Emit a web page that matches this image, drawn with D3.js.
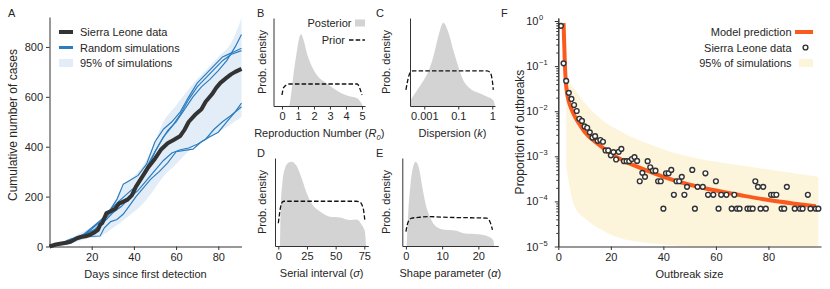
<!DOCTYPE html>
<html>
<head>
<meta charset="utf-8">
<script src="https://cdn.jsdelivr.net/npm/d3@7"></script>
<style>
  body { margin: 0; background: #fff; }
  svg text { font-family: "Liberation Sans", Arial, Helvetica, sans-serif; fill: #262626; }
</style>
</head>
<body>
<svg id="chart" width="830" height="289"></svg>
<script>
// ---------------- data ----------------
// panel A: cumulative cases [day, cases]
const slCurve = [[0,0],[3,8],[5,11],[8,15],[10,19],[13,33],[15,38],[17,41],[19,46],[21,55],[23,67],[24,87],[25,94],[27,134],[29,141],[31,150],[33,172],[35,180],[37,188],[39,205],[41,240],[44,280],[47,320],[50,352],[53,390],[56,414],[59,428],[62,443],[64,468],[66,500],[69,528],[72,550],[74,580],[77,610],[79,636],[81,656],[84,677],[86,690],[88,700],[91,712]];
const sim1 = [[0,0],[4,8],[8,18],[12,30],[16,42],[20,70],[24,100],[28,140],[32,175],[36,205],[40,235],[44,285],[48,350],[52,410],[56,465],[60,500],[64,550],[68,600],[72,640],[76,670],[80,705],[84,745],[88,800],[91,850]];
const sim2 = [[0,0],[5,10],[10,25],[15,40],[20,75],[25,110],[29,150],[32,190],[35,250],[38,265],[42,285],[46,330],[50,420],[54,470],[58,500],[62,540],[66,600],[70,655],[74,690],[78,725],[82,760],[86,775],[91,795]];
const sim3 = [[0,0],[6,12],[11,28],[16,45],[21,65],[26,105],[30,150],[34,178],[38,200],[42,250],[46,300],[50,380],[54,440],[58,480],[62,530],[66,590],[70,640],[74,675],[78,710],[82,745],[86,770],[91,785]];
const sim4 = [[0,0],[5,12],[10,30],[15,38],[18,40],[24,42],[26,75],[29,100],[32,108],[35,130],[38,165],[41,200],[44,230],[48,270],[52,300],[56,335],[60,380],[64,385],[68,390],[72,420],[76,440],[80,458],[84,500],[88,540],[91,575]];
const sim5 = [[0,0],[6,14],[12,35],[18,55],[22,70],[26,100],[30,135],[34,160],[38,195],[42,225],[46,265],[50,305],[54,345],[58,375],[62,388],[66,395],[70,410],[74,430],[78,470],[82,500],[86,525],[91,560]];
const bandDays = [0,5,10,15,19,23,27,31,35,39,43,48,54,60,65,70,75,80,86,91];
const bandLo   = [0,3,12,25,33,38,55,80,105,132,160,210,281,330,375,416,436,458,490,520];
const bandHi   = [0,15,35,55,72,100,138,180,240,275,310,380,500,565,620,670,715,760,815,915];
const ticksAx = [20,40,60,80];
const ticksAy = [0,200,400,600,800];

// panels B-E: posterior / prior densities [x, density]
const postB  = [[0.45,0],[0.52,0.08],[0.73,0.45],[0.94,0.76],[1.1,0.945],[1.2,0.978],[1.35,0.9],[1.56,0.72],[1.87,0.54],[2.19,0.42],[2.71,0.32],[3.23,0.24],[3.75,0.17],[4.27,0.13],[4.68,0.11],[4.9,0.06],[5.05,0]];
const priorB = [[0,0.15],[0.1,0.25],[0.31,0.29],[0.5,0.3],[4.7,0.3],[4.85,0.25],[5.0,0.15]];
const postC  = [[-3.84,0.07],[-3.55,0.17],[-3.15,0.31],[-2.76,0.47],[-2.47,0.67],[-2.18,0.945],[-1.88,1.136],[-1.59,1.01],[-1.29,0.76],[-1.0,0.54],[-0.71,0.355],[-0.31,0.24],[0.18,0.18],[0.67,0.13],[1.06,0.08],[1.16,0]];
const priorC = [[-4.08,0.22],[-3.84,0.45],[-3.65,0.48],[-3.4,0.48],[0.7,0.48],[0.86,0.46],[1.0,0.35],[1.06,0.22]];
const postD  = [[1.5,0],[2.1,0.54],[3.5,0.855],[5.8,1.06],[8.7,1.136],[11.7,1.15],[16,1.09],[20.4,0.92],[24.8,0.72],[29.1,0.58],[36.4,0.47],[45.1,0.40],[53.8,0.39],[62.5,0.355],[68.4,0.36],[72.7,0.29],[75.6,0.195],[76.5,0]];
const priorD = [[0,0.31],[2.1,0.54],[3.5,0.6],[5,0.61],[68,0.61],[71.2,0.6],[74.1,0.51],[75.6,0.33]];
const postE  = [[0.2,0],[0.64,0.45],[1.3,0.855],[2.0,1.08],[2.7,1.15],[3.6,1.06],[4.5,0.81],[5.4,0.58],[6.6,0.40],[8.5,0.26],[10.8,0.22],[13.5,0.21],[16.3,0.17],[20,0.16],[22.7,0.13],[24.1,0.08],[24.4,0]];
const priorE = [[0,0.195],[0.64,0.33],[1.6,0.38],[3.4,0.39],[6.2,0.40],[12,0.39],[22.3,0.38],[23.2,0.33],[23.9,0.22]];
const ticksB = [0,1,2,3,4,5];
const ticksC = [-3,-1,1];
const ticksCLabels = ["0.001","0.1","1"];
const ticksD = [0,25,50,75];
const ticksE = [0,10,20];

// panel F: outbreak size distribution
const outbreakSize = [1,2,3,4,5,6,7,8,9,10,11,12,13,14,15,16,17,18,19,20,21,22,23,24,25,26,27,28,29,30,31,32,33,34,35,36,37,38,39,40,41,42,43,44,45,46,47,48,49,51,52,53,55,56,57,59,60,61,62,64,66,67,68,69,72,73,74,75,76,77,78,79,81,82,83,85,86,87,90,92,93,95,96,98,99];
const outbreakProp = [0.78,0.115,0.047,0.0255,0.0187,0.0137,0.0101,0.0068,0.0061,0.0046,0.0043,0.0034,0.0026,0.0028,0.0022,0.0023,0.0021,0.00135,0.00135,0.00105,0.00124,0.00085,0.00126,0.00146,0.00078,0.00078,0.00078,0.00087,0.00096,0.00079,0.00028,0.00043,0.00035,0.00078,0.00057,0.00048,0.00048,0.00028,0.00028,0.000069,0.00042,0.00042,0.0005,0.00014,0.00028,0.00028,0.00035,0.00014,0.00021,0.0005,0.000069,0.00021,0.00021,0.00042,0.00014,0.00014,0.00028,0.000069,0.00014,0.00014,0.000069,0.00014,0.000069,0.000069,0.000069,0.000069,0.000069,0.00028,0.00021,0.000069,0.00021,0.000069,0.00014,0.00014,0.00014,0.000069,0.000069,0.00021,0.000069,0.000069,0.000069,0.00014,0.000069,0.000069,0.000069];
const modelSize = [2,2.5,3,4,5,6,8,10,15,20,25,30,35,40,50,60,70,80,90,98];
const modelProp = [0.9,0.11,0.036,0.0165,0.0112,0.0083,0.0052,0.0035,0.0019,0.00115,0.00079,0.00059,0.00045,0.00035,0.000234,0.000174,0.000135,0.000107,0.000089,0.000078];
const simBandSize = [3,6,11,18,24,31,37,44,50,57,69,82,99];
const simBandLo = [0.00063,0.000081,0.000038,0.000021,0.000015,0.0000126,0.0000115,0.0000105,0.00001,0.00001,0.00001,0.00001,0.00001];
const simBandHi = [0.054,0.032,0.0132,0.0056,0.0035,0.00224,0.00166,0.0012,0.00098,0.00081,0.00063,0.00049,0.00035];
const ticksFx = [0,20,40,60,80];
const ticksFexp = [0,-1,-2,-3,-4,-5];

// ---------------- drawing ----------------
const svg = d3.select("#chart");
const ink = "#262626";

function styleAxis(ax) {
    ax.attr("font-family", null);
    ax.select(".domain").attr("stroke", "#333");
    ax.selectAll(".tick line").attr("stroke", "#333");
    ax.selectAll(".tick text")
        .attr("fill", ink)
        .attr("font-size", 11);
}

function label(g, x, y, text, size, anchor, rotate) {
    let t = g.append("text")
        .attr("x", x)
        .attr("y", y)
        .attr("font-size", size)
        .attr("text-anchor", anchor || "start")
        .text(text);
    if (rotate) t.attr("transform", "rotate(-90," + x + "," + y + ")");
    return t;
}

// x label made of plain, italic and subscript parts
function richLabel(g, x, y, parts) {
    let t = g.append("text")
        .attr("x", x)
        .attr("y", y)
        .attr("font-size", 11)
        .attr("text-anchor", "middle");
    parts.forEach(function (p) {
        let s = t.append("tspan").text(p.t);
        if (p.i) s.attr("font-style", "italic");
        if (p.sub) s.attr("font-size", 7.5).attr("dy", 2.5);
        if (p.back) s.attr("dy", -2.5);
    });
}

// ---- panel A ----
(function () {
    const x = d3.scaleLinear().domain([0, 91]).range([49.5, 241.5]);
    const y = d3.scaleLinear().domain([0, 920]).range([246.5, 17]);
    const g = svg.append("g");

    const band = bandDays.map((d, i) => ({ x: d, lo: bandLo[i], hi: bandHi[i] }));
    g.append("path")
        .datum(band)
        .attr("fill", "#e2edf7")
        .attr("d", d3.area().x(d => x(d.x)).y0(d => y(d.lo)).y1(d => y(d.hi)).curve(d3.curveMonotoneX));

    const line = d3.line().x(d => x(d[0])).y(d => y(d[1]));
    [sim1, sim2, sim3, sim4, sim5].forEach(function (s) {
        g.append("path")
            .datum(s)
            .attr("fill", "none")
            .attr("stroke", "#2b7dc0")
            .attr("stroke-width", 1.2)
            .attr("d", line);
    });
    g.append("path")
        .datum(slCurve)
        .attr("fill", "none")
        .attr("stroke", "#333")
        .attr("stroke-width", 4)
        .attr("stroke-linejoin", "round")
        .attr("d", line);

    let ax = g.append("g")
        .attr("transform", "translate(0,246.5)")
        .call(d3.axisBottom(x).tickValues(ticksAx).tickSize(3.5).tickPadding(3).tickSizeOuter(0));
    styleAxis(ax);
    let ay = g.append("g")
        .attr("transform", "translate(49.5,0)")
        .call(d3.axisLeft(y).tickValues(ticksAy).tickSize(3.5).tickPadding(3).tickSizeOuter(0));
    styleAxis(ay);

    label(g, 145.5, 278, "Days since first detection", 11, "middle");
    label(g, 17, 125, "Cumulative number of cases", 12, "middle", true);
    label(g, 8, 17, "A", 11);

    // legend
    g.append("line").attr("x1", 59).attr("x2", 73).attr("y1", 32).attr("y2", 32)
        .attr("stroke", "#333").attr("stroke-width", 4);
    g.append("line").attr("x1", 59).attr("x2", 73).attr("y1", 47.5).attr("y2", 47.5)
        .attr("stroke", "#2b7dc0").attr("stroke-width", 3);
    g.append("rect").attr("x", 59).attr("y", 59).attr("width", 14).attr("height", 8)
        .attr("fill", "#e2edf7");
    label(g, 80, 36, "Sierra Leone data", 11);
    label(g, 80, 51.5, "Random simulations", 11);
    label(g, 80, 67, "95% of simulations", 11);
})();

// ---- panels B-E ----
function densityPanel(box, xDomain, ticks, tickLabels, post, prior, letter, xlabelParts, ylabX) {
    const x = d3.scaleLinear().domain(xDomain).range([box.left, box.right]);
    const y = d3.scaleLinear().domain([0, 1.2]).range([box.bottom, box.top]);
    const g = svg.append("g");

    g.append("path")
        .datum(post)
        .attr("fill", "#d3d3d3")
        .attr("d", d3.area().x(d => x(d[0])).y0(y(0)).y1(d => y(d[1])).curve(d3.curveMonotoneX));
    g.append("path")
        .datum(prior)
        .attr("fill", "none")
        .attr("stroke", "#111")
        .attr("stroke-width", 1.3)
        .attr("stroke-dasharray", "4.5,2.2")
        .attr("d", d3.line().x(d => x(d[0])).y(d => y(d[1])).curve(d3.curveMonotoneX));

    let xAxis = d3.axisBottom(x).tickValues(ticks).tickSize(3.5).tickPadding(3).tickSizeOuter(0)
        .tickFormat(tickLabels ? (d, i) => tickLabels[i] : d3.format("d"));
    let ax = g.append("g")
        .attr("transform", "translate(0," + box.bottom + ")")
        .call(xAxis);
    styleAxis(ax);
    let ay = g.append("g")
        .attr("transform", "translate(" + box.left + ",0)")
        .call(d3.axisLeft(y).tickValues([]).tickSizeOuter(0));
    styleAxis(ay);

    label(g, ylabX, (box.top + box.bottom) / 2, "Prob. density", 11, "middle", true);
    label(g, box.letterX, box.top - 1, letter, 11);
    richLabel(g, (box.left + box.right) / 2, box.bottom + 31, xlabelParts);
    return g;
}

let gB = densityPanel({ left: 273.5, right: 365, top: 18, bottom: 106, letterX: 257 },
    [-0.53, 5.19], ticksB, null, postB, priorB, "B",
    [{ t: "Reproduction Number (" }, { t: "R", i: true }, { t: "0", i: true, sub: true }, { t: ")", back: true }], 266);
densityPanel({ left: 410, right: 495, top: 18, bottom: 106, letterX: 376 },
    [-3.84, 1.16], ticksC, ticksCLabels, postC, priorC, "C",
    [{ t: "Dispersion (" }, { t: "k", i: true }, { t: ")" }], 390);
densityPanel({ left: 275, right: 368.3, top: 158, bottom: 246, letterX: 257 },
    [-2.9, 78.5], ticksD, null, postD, priorD, "D",
    [{ t: "Serial interval (" }, { t: "σ", i: true }, { t: ")" }], 266);
densityPanel({ left: 402.3, right: 498.3, top: 158, bottom: 246, letterX: 376 },
    [-1, 25.5], ticksE, null, postE, priorE, "E",
    [{ t: "Shape parameter (" }, { t: "α", i: true }, { t: ")" }], 390);

// legend of panel B
gB.append("rect").attr("x", 355).attr("y", 19.5).attr("width", 10).attr("height", 7).attr("fill", "#d3d3d3");
gB.append("line").attr("x1", 349).attr("x2", 365).attr("y1", 40).attr("y2", 40)
    .attr("stroke", "#111").attr("stroke-width", 1.3).attr("stroke-dasharray", "4.5,2.2");
label(gB, 351.5, 27, "Posterior", 11, "end");
label(gB, 345, 44, "Prior", 11, "end");

// ---- panel F ----
(function () {
    const x = d3.scaleLinear().domain([0, 100]).range([558.3, 821]);
    const y = d3.scaleLog().domain([1e-5, 1.166]).range([246.5, 18]);
    const g = svg.append("g");

    const band = simBandSize.map((d, i) => ({ x: d, lo: simBandLo[i], hi: simBandHi[i] }));
    g.append("path")
        .datum(band)
        .attr("fill", "#fdf4dc")
        .attr("d", d3.area().x(d => x(d.x)).y0(d => y(d.lo)).y1(d => y(d.hi)).curve(d3.curveMonotoneX));

    const model = modelSize.map((d, i) => [d, modelProp[i]]);
    g.append("path")
        .datum(model)
        .attr("fill", "none")
        .attr("stroke", "#fb5a1f")
        .attr("stroke-width", 4)
        .attr("d", d3.line().x(d => x(d[0])).y(d => y(d[1])).curve(d3.curveMonotoneX));

    g.selectAll(".pt")
        .data(outbreakSize.map((d, i) => [d, outbreakProp[i]]))
        .enter().append("circle")
        .attr("class", "pt")
        .attr("cx", d => x(d[0]))
        .attr("cy", d => y(d[1]))
        .attr("r", 2.4)
        .attr("fill", "#fff")
        .attr("stroke", "#333")
        .attr("stroke-width", 1.4);

    let ax = g.append("g")
        .attr("transform", "translate(0,246.5)")
        .call(d3.axisBottom(x).tickValues(ticksFx).tickSize(3.5).tickPadding(3).tickSizeOuter(0));
    styleAxis(ax);

    // minor log ticks
    let minor = [];
    ticksFexp.slice(1).forEach(function (e) {
        for (let m = 2; m <= 9; m++) minor.push(m * Math.pow(10, e));
    });
    let am = g.append("g")
        .attr("transform", "translate(558.3,0)")
        .call(d3.axisLeft(y).tickValues(minor).tickSize(2).tickFormat("").tickSizeOuter(0));
    styleAxis(am);
    let ay = g.append("g")
        .attr("transform", "translate(558.3,0)")
        .call(d3.axisLeft(y).tickValues(ticksFexp.map(e => Math.pow(10, e))).tickSize(3.5).tickFormat("").tickSizeOuter(0));
    styleAxis(ay);
    ticksFexp.forEach(function (e) {
        g.append("text")
            .attr("x", 538.5)
            .attr("y", y(Math.pow(10, e)) + 4)
            .attr("font-size", 11)
            .attr("text-anchor", "end")
            .text("10");
        g.append("text")
            .attr("x", 539)
            .attr("y", y(Math.pow(10, e)) - 1)
            .attr("font-size", 7.5)
            .text(e === 0 ? "0" : "\u2212" + (-e));
    });

    label(g, 689.5, 278, "Outbreak size", 11, "middle");
    label(g, 524, 132, "Proportion of outbreaks", 12, "middle", true);
    label(g, 501, 17, "F", 11);

    // legend
    g.append("line").attr("x1", 795).attr("x2", 813).attr("y1", 32).attr("y2", 32)
        .attr("stroke", "#fb5a1f").attr("stroke-width", 4);
    g.append("circle").attr("cx", 805.5).attr("cy", 47.5).attr("r", 2.4)
        .attr("fill", "#fff").attr("stroke", "#333").attr("stroke-width", 1.4);
    g.append("rect").attr("x", 799).attr("y", 59).attr("width", 14).attr("height", 8)
        .attr("fill", "#fdf4dc");
    label(g, 791.5, 36, "Model prediction", 11, "end");
    label(g, 791.5, 51.5, "Sierra Leone data", 11, "end");
    label(g, 791.5, 67, "95% of simulations", 11, "end");
})();
</script>
</body>
</html>
